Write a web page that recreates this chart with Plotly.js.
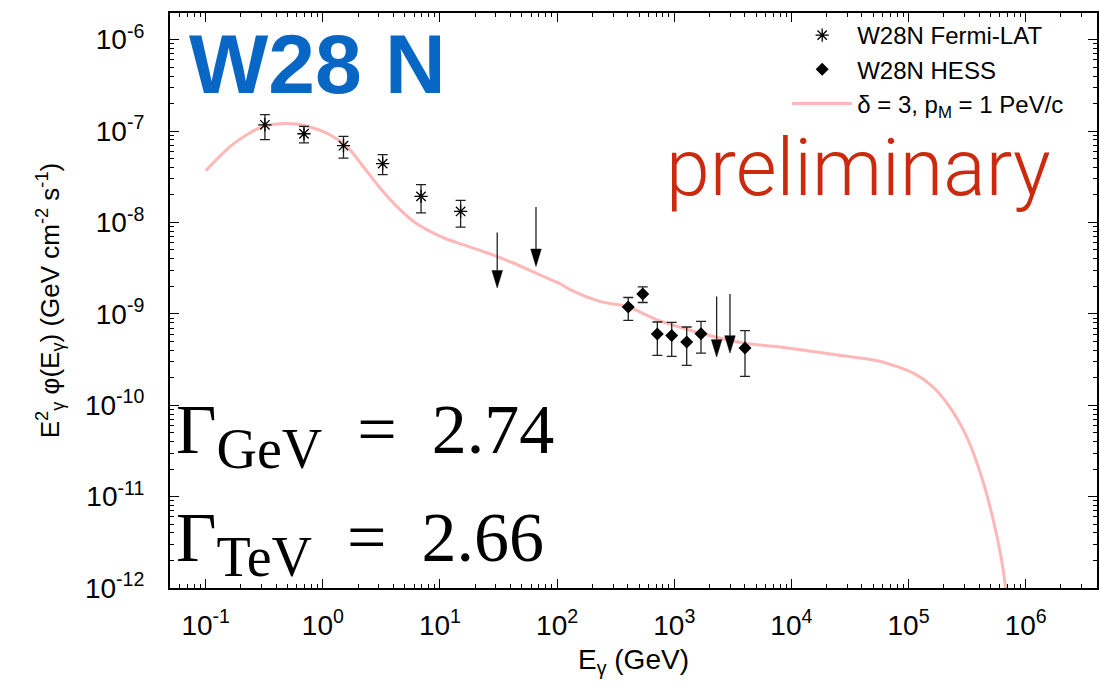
<!DOCTYPE html>
<html><head><meta charset="utf-8">
<script src="https://cdn.plot.ly/plotly-3.0.1.min.js"></script>
<style>html,body{margin:0;padding:0;background:#fff}#chart{width:1099px;height:687px}</style>
</head><body><div id="chart"></div>
<script>
// ---- Fermi-LAT (GeV, GeV cm^-2 s^-1)
const fermiE    = [0.32, 0.69, 1.50, 3.24, 6.89, 15.0];
const fermiFlux = [1.17e-7, 9.35e-8, 6.92e-8, 4.40e-8, 1.93e-8, 1.32e-8];
const fermiHi   = [1.51e-7, 1.125e-7, 8.75e-8, 5.52e-8, 2.59e-8, 1.74e-8];
const fermiLo   = [8.05e-8, 7.41e-8, 5.07e-8, 3.34e-8, 1.27e-8, 8.91e-9];
const fermiUlE   = [30.8, 66];
const fermiUl    = [7.78e-9, 1.48e-8];
const fermiUlTip = [1.92e-9, 3.30e-9];
// ---- HESS
const hessE    = [405, 538, 717, 951, 1277, 1691, 4016];
const hessFlux = [1.19e-9, 1.65e-9, 6.01e-10, 5.81e-10, 4.92e-10, 6.06e-10, 4.22e-10];
const hessHi   = [1.51e-9, 1.97e-9, 8.14e-10, 8.05e-10, 7.18e-10, 8.26e-10, 6.54e-10];
const hessLo   = [8.47e-10, 1.33e-9, 3.51e-10, 3.42e-10, 2.73e-10, 3.72e-10, 2.07e-10];
const hessUlE   = [2300, 2990];
const hessUl    = [1.55e-9, 1.65e-9];
const hessUlTip = [3.37e-10, 3.72e-10];
// ---- model curve (delta = 3, pM = 1 PeV/c)
const modelE = [0.1, 0.162, 0.224, 0.31, 0.431, 0.598, 0.83, 1.15, 1.6, 2.21, 3.08, 4.27, 5.92, 8.22,
  11.4, 15.8, 22.0, 30.5, 42.3, 58.7, 81.5, 106, 129, 231, 405, 708, 1660, 3880, 8000, 27600, 55600,
  1.12e5, 1.59e5, 2.26e5, 3.21e5, 4.25e5, 5.24e5, 6.24e5, 7.24e5];
const modelFlux = [3.68e-8, 6.79e-8, 9.12e-8, 1.125e-7, 1.205e-7, 1.194e-7, 1.081e-7, 9.12e-8, 6.79e-8,
  4.10e-8, 2.38e-8, 1.50e-8, 1.03e-8, 7.98e-9, 6.59e-9, 5.71e-9, 4.94e-9, 4.26e-9, 3.60e-9, 2.99e-9,
  2.47e-9, 2.14e-9, 1.84e-9, 1.37e-9, 1.19e-9, 8.63e-10, 6.17e-10, 4.80e-10, 4.34e-10, 3.48e-10, 3.05e-10,
  2.22e-10, 1.62e-10, 9.48e-11, 4.23e-11, 1.57e-11, 5.85e-12, 2.00e-12, 5e-13];
// ---- tick labels
const xTickVals = [0.1, 1, 10, 100, 1e3, 1e4, 1e5, 1e6];
const xTickText = ['10<sup>-1</sup>','10<sup>0</sup>','10<sup>1</sup>','10<sup>2</sup>','10<sup>3</sup>','10<sup>4</sup>','10<sup>5</sup>','10<sup>6</sup>'];
const yTickVals = [1e-12, 1e-11, 1e-10, 1e-9, 1e-8, 1e-7, 1e-6];
const yTickText = ['10<sup>-12</sup>','10<sup>-11</sup>','10<sup>-10</sup>','10<sup>-9</sup>','10<sup>-8</sup>','10<sup>-7</sup>','10<sup>-6</sup>'];

function minorVals(lo, hi, rlo, rhi) {
  const v = [];
  for (let p = lo; p <= hi; p++) for (let m = 2; m <= 9; m++) {
    const val = m * Math.pow(10, p), l = Math.log10(val);
    if (l > rlo && l < rhi) v.push(val);
  }
  return v;
}
// arrow geometry (style): half-width and head length in decades
const HEAD_HW = 0.045, HEAD_LEN = 0.19;
function ulStems(E, top, tip) {
  const x = [], y = [];
  E.forEach((e, i) => { x.push(e, e, null); y.push(top[i], tip[i] * Math.pow(10, HEAD_LEN), null); });
  return {x, y};
}
function ulHeads(E, tip) {
  const x = [], y = [];
  E.forEach((e, i) => {
    const b = tip[i] * Math.pow(10, HEAD_LEN);
    x.push(e * Math.pow(10, -HEAD_HW), e * Math.pow(10, HEAD_HW), e, e * Math.pow(10, -HEAD_HW), null);
    y.push(b, b, tip[i], b, null);
  });
  return {x, y};
}
const fStem = ulStems(fermiUlE, fermiUl, fermiUlTip), fHead = ulHeads(fermiUlE, fermiUlTip);
const hStem = ulStems(hessUlE, hessUl, hessUlTip), hHead = ulHeads(hessUlE, hessUlTip);

const errStyle = (hi, lo, val) => ({
  type: 'data', symmetric: false,
  array: hi.map((h, i) => h - val[i]), arrayminus: lo.map((l, i) => val[i] - l),
  color: '#222', thickness: 1.3, width: 5
});

const XR = [-1.305, 6.609], YR = [-12, -5.708];
const traces = [
  {x: modelE, y: modelFlux, mode: 'lines', name: 'δ = 3, p<sub>M</sub> = 1 PeV/c',
   line: {color: '#ffb7b7', width: 3, shape: 'spline', smoothing: 0.8}, legendrank: 3},
  {x: fermiE, y: fermiFlux, mode: 'markers', name: 'W28N Fermi-LAT',
   marker: {symbol: 'asterisk-open', size: 11, color: '#000', line: {color: '#000', width: 1.3}},
   error_y: errStyle(fermiHi, fermiLo, fermiFlux), legendrank: 1},
  {x: hessE, y: hessFlux, mode: 'markers', name: 'W28N HESS',
   marker: {symbol: 'diamond', size: 10, color: '#000'},
   error_y: errStyle(hessHi, hessLo, hessFlux), legendrank: 2},
  {x: fStem.x.concat(hStem.x), y: fStem.y.concat(hStem.y), mode: 'lines', showlegend: false,
   line: {color: '#222', width: 1.3}, hoverinfo: 'skip'},
  {x: fHead.x.concat(hHead.x), y: fHead.y.concat(hHead.y), mode: 'lines', fill: 'toself', showlegend: false,
   fillcolor: '#000', line: {color: '#000', width: 0.5}, hoverinfo: 'skip'}
];

const SANS = 'Liberation Sans, Arial, Helvetica, sans-serif';
const SERIF = 'Liberation Serif, DejaVu Serif, serif';
const axisFont = {family: SANS, size: 28, color: '#000'};
const layout = {
  width: 1099, height: 687,
  margin: {l: 170, r: 2, t: 13, b: 99},
  paper_bgcolor: '#fff', plot_bgcolor: '#fff',
  showlegend: true,
  legend: {x: 0.97, xanchor: 'right', y: 1.0, yanchor: 'top', bgcolor: 'rgba(0,0,0,0)',
           font: {family: SANS, size: 24, color: '#000'},
           itemwidth: 60, tracegroupgap: 0},
  xaxis: {type: 'log', range: XR, showgrid: false, zeroline: false,
          showline: true, linecolor: '#000', linewidth: 2, mirror: 'allticks',
          ticks: 'inside', ticklen: 9, tickwidth: 1, tickcolor: '#000',
          tickmode: 'array', tickvals: xTickVals, ticktext: xTickText, tickfont: axisFont,
          ticklabelstandoff: 11,
          minor: {ticks: 'inside', ticklen: 4, tickwidth: 1, tickcolor: '#000', tickmode: 'array',
                  tickvals: minorVals(-2, 6, XR[0], XR[1]), showgrid: false},
          title: {text: 'E<sub>γ</sub> (GeV)', font: {family: SANS, size: 28, color: '#000'}, standoff: 10}},
  yaxis: {type: 'log', range: YR, showgrid: false, zeroline: false,
          showline: true, linecolor: '#000', linewidth: 2, mirror: 'allticks',
          ticks: 'inside', ticklen: 9, tickwidth: 1, tickcolor: '#000',
          tickmode: 'array', tickvals: yTickVals, ticktext: yTickText, tickfont: axisFont,
          ticklabelstandoff: 18,
          minor: {ticks: 'inside', ticklen: 4, tickwidth: 1, tickcolor: '#000', tickmode: 'array',
                  tickvals: minorVals(-13, -6, YR[0], YR[1]), showgrid: false},
          title: {text: 'E<sup>2</sup><sub>γ</sub> φ(E<sub>γ</sub>) (GeV cm<sup>-2</sup> s<sup>-1</sup>)',
                  font: {family: SANS, size: 26, color: '#000'}, standoff: 18}},
  annotations: [
    {xref: 'paper', yref: 'paper', x: 0.018, y: 0.912, xanchor: 'left', yanchor: 'middle', showarrow: false,
     text: '<b>W28 N</b>', font: {family: SANS, size: 84, color: '#0866c4'}},
    {xref: 'paper', yref: 'paper', x: 0.953, y: 0.647, xanchor: 'right', yanchor: 'bottom', showarrow: false,
     text: 'preliminary', font: {family: 'Roboto, Lato, sans-serif', size: 79, color: '#cc2a0e', weight: 300}},
    {xref: 'paper', yref: 'paper', x: 0.004, y: 0.265, xanchor: 'left', yanchor: 'middle', showarrow: false,
     text: 'Γ<sub><span style="font-size:56px">GeV</span></sub>&#8194;=&#8194;2.74', font: {family: SERIF, size: 70, color: '#000'}},
    {xref: 'paper', yref: 'paper', x: 0.004, y: 0.078, xanchor: 'left', yanchor: 'middle', showarrow: false,
     text: 'Γ<sub><span style="font-size:56px">TeV</span></sub>&#8194;=&#8194;2.66', font: {family: SERIF, size: 70, color: '#000'}}
  ]
};
Plotly.newPlot('chart', traces, layout, {displayModeBar: false, staticPlot: true});
</script>
</body></html>
